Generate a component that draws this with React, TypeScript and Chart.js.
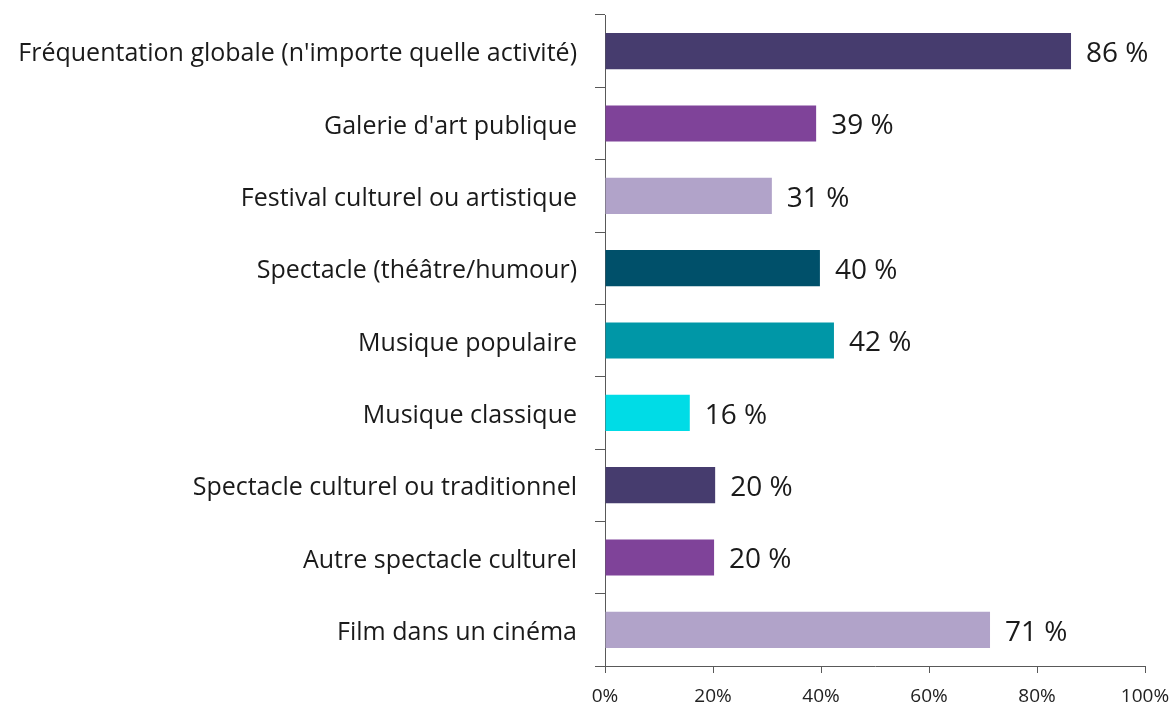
import React, { useEffect, useRef } from "react";
import { Chart, registerables } from "chart.js";

Chart.register(...registerables);

const categories = [
  "Fréquentation globale (n'importe quelle activité)",
  "Galerie d'art publique",
  "Festival culturel ou artistique",
  "Spectacle (théâtre/humour)",
  "Musique populaire",
  "Musique classique",
  "Spectacle culturel ou traditionnel",
  "Autre spectacle culturel",
  "Film dans un cinéma",
];
const values = [86.3, 39.1, 30.9, 39.8, 42.4, 15.7, 20.4, 20.2, 71.3];
const valueLabels = ["86 %", "39 %", "31 %", "40 %", "42 %", "16 %", "20 %", "20 %", "71 %"];
const barColors = [
  "#463C6E",
  "#7F4399",
  "#B1A3C9",
  "#00506A",
  "#0097A7",
  "#00DCE6",
  "#463C6E",
  "#7F4399",
  "#B1A3C9",
];
const xTicks = [0, 20, 40, 60, 80, 100];

const FONT = "'Open Sans', 'Noto Sans', sans-serif";

const valueLabelPlugin = {
  id: "valueLabels",
  afterDatasetsDraw(chart: any) {
    const ctx = chart.ctx;
    const meta = chart.getDatasetMeta(0);
    ctx.save();
    ctx.font = `28px ${FONT}`;
    ctx.fillStyle = "#1a1a1a";
    ctx.textAlign = "left";
    ctx.textBaseline = "middle";
    meta.data.forEach((bar: any, i: number) => {
      ctx.fillText(valueLabels[i], bar.x + 15, bar.y + 3);
    });
    ctx.restore();
  },
};

export default function App() {
  const ref = useRef<HTMLCanvasElement | null>(null);
  useEffect(() => {
    if (!ref.current) return;
    const chart = new Chart(ref.current, {
      type: "bar",
      data: {
        labels: categories,
        datasets: [
          {
            data: values,
            backgroundColor: barColors,
            barPercentage: 0.5,
            categoryPercentage: 1,
          },
        ],
      },
      options: {
        indexAxis: "y",
        animation: false,
        responsive: false,
        maintainAspectRatio: false,
        layout: { padding: { top: 15, right: 26, left: 0, bottom: 0 } },
        plugins: {
          legend: { display: false },
          tooltip: { enabled: false },
        },
        scales: {
          x: {
            min: 0,
            max: 100,
            afterBuildTicks(scale: any) {
              scale.ticks = xTicks.map((v) => ({ value: v }));
            },
            afterFit(scale: any) {
              scale.height = 41;
              scale.paddingLeft = 0;
              scale.paddingRight = 0;
            },
            ticks: {
              callback: (v: any) => `${v}%`,
              font: { family: FONT, size: 19 },
              color: "#222",
              padding: 12,
              maxRotation: 0,
            },
            grid: {
              drawOnChartArea: false,
              drawTicks: true,
              tickLength: 7,
              color: "#595959",
            },
            border: { display: true, color: "#595959", width: 1 },
          },
          y: {
            afterFit(scale: any) {
              scale.width = 605;
              scale.paddingTop = 0;
              scale.paddingBottom = 0;
            },
            ticks: {
              font: { family: FONT, size: 25 },
              color: "#1a1a1a",
              padding: 18,
              labelOffset: 3,
            },
            grid: {
              drawOnChartArea: false,
              drawTicks: true,
              tickLength: 10,
              offset: true,
              color: "#595959",
            },
            border: { display: true, color: "#595959", width: 1 },
          },
        },
      },
      plugins: [valueLabelPlugin],
    } as any);
    return () => chart.destroy();
  }, []);
  return (
    <div style={{ position: "fixed", left: 0, top: 0, width: 1171, height: 707 }}>
      <canvas ref={ref} width={1171} height={707} style={{ width: 1171, height: 707 }} />
    </div>
  );
}
